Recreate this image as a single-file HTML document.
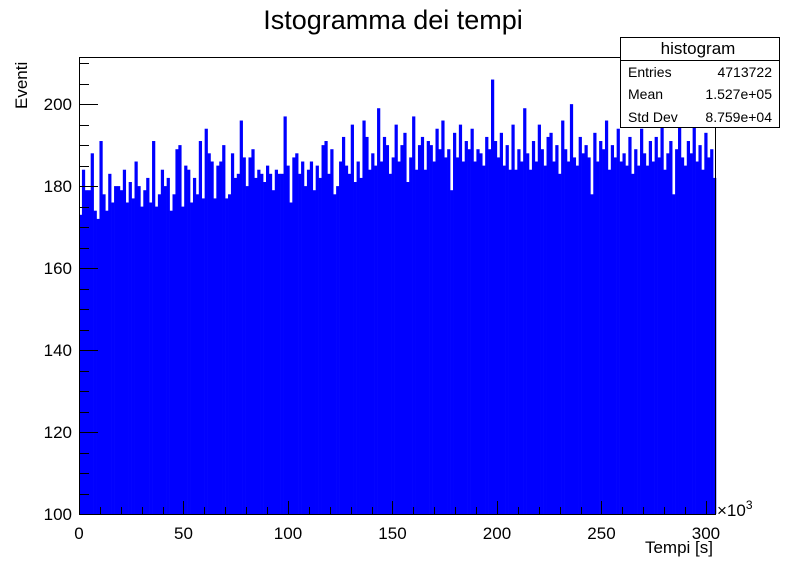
<!DOCTYPE html>
<html><head><meta charset="utf-8"><style>
html,body{margin:0;padding:0;background:#fff;}
svg{display:block;font-family:"Liberation Sans",sans-serif;}
</style></head><body>
<svg id="chart" width="796" height="572" viewBox="0 0 796 572">
<rect width="796" height="572" fill="#fff"/>
<text x="393" y="29" font-size="27" text-anchor="middle">Istogramma dei tempi</text>
<g id="bars"></g>
<g id="axes"></g>
<text x="713" y="553" font-size="17" text-anchor="end">Tempi [s]</text>
<text x="717" y="516" font-size="17">×10<tspan dy="-7" font-size="12">3</tspan></text>
<text transform="translate(27,109) rotate(-90)" font-size="17">Eventi</text>
<g>
<rect x="620.5" y="37.5" width="159" height="90" fill="#fff" stroke="#000" stroke-width="1"/>
<line x1="620" y1="60.5" x2="780" y2="60.5" stroke="#000"/>
<text x="698" y="54" font-size="17" text-anchor="middle">histogram</text>
<text x="628" y="77" font-size="14">Entries</text>
<text x="772" y="77" font-size="14" text-anchor="end">4713722</text>
<text x="628" y="99" font-size="14">Mean</text>
<text x="772" y="99" font-size="14" text-anchor="end">1.527e+05</text>
<text x="628" y="122" font-size="14">Std Dev</text>
<text x="772" y="122" font-size="14" text-anchor="end">8.759e+04</text>
</g>
</svg>
<script>
const counts = [173,184,179,179,188,174,172,191,178,174,183,176,180,180,179,184,176,181,177,186,180,175,179,182,176,191,175,178,184,180,182,174,178,189,190,175,185,184,176,182,178,191,177,194,188,186,177,185,186,190,177,178,188,182,183,196,187,180,187,189,182,184,183,181,185,183,179,184,183,183,197,185,176,187,188,183,186,180,184,186,179,185,182,190,191,183,189,178,180,186,192,185,183,195,181,186,182,196,192,184,188,185,199,186,192,190,183,187,195,186,190,193,181,187,197,184,190,192,184,191,190,186,194,189,196,187,189,179,193,187,195,186,191,189,194,186,189,188,185,192,189,206,191,187,193,185,190,184,195,184,189,186,199,188,184,191,186,195,189,185,192,193,186,190,183,196,189,186,200,187,185,192,188,190,187,178,193,186,191,189,196,184,190,187,194,186,188,185,192,183,189,185,194,188,185,191,186,192,187,195,184,188,191,178,189,195,187,185,191,188,196,186,190,184,193,187,189,182];
const xMin = 0, xMax = 304.8, yMin = 100, yMax = 211.5;
const xTicks = [0,50,100,150,200,250,300];
const yTicks = [100,120,140,160,180,200];
const L=79,R=716,T=57,B=514;
const sx=v=>L+(v-xMin)/(xMax-xMin)*(R-L);
const sy=v=>B-(v-yMin)/(yMax-yMin)*(B-T);
const NS="http://www.w3.org/2000/svg";
const bars=document.getElementById('bars');
const bw=(xMax-xMin)/counts.length;
counts.forEach((c,i)=>{
  const r=document.createElementNS(NS,'rect');
  const x0=sx(xMin+i*bw), x1=sx(xMin+(i+1)*bw);
  r.setAttribute('x',x0);r.setAttribute('width',x1-x0+0.3);
  r.setAttribute('y',sy(c));r.setAttribute('height',B-sy(c));
  r.setAttribute('fill','#0000ff');
  
  
  bars.appendChild(r);
});
const ax=document.getElementById('axes');
function line(x1,y1,x2,y2,name){const l=document.createElementNS(NS,'line');
  l.setAttribute('x1',x1);l.setAttribute('y1',y1);l.setAttribute('x2',x2);l.setAttribute('y2',y2);
  l.setAttribute('stroke','#000');l.setAttribute('stroke-width','1');
  
  
  ax.appendChild(l);}
function text(x,y,s,anchor,name){const t=document.createElementNS(NS,'text');
  t.setAttribute('x',x);t.setAttribute('y',y);t.setAttribute('font-size','17');t.setAttribute('text-anchor',anchor);t.textContent=s;
  
  
  ax.appendChild(t);}
const fr=document.createElementNS(NS,'rect');
fr.setAttribute('x',L+0.5);fr.setAttribute('y',T+0.5);fr.setAttribute('width',R-L-1);fr.setAttribute('height',B-T);
fr.setAttribute('fill','none');fr.setAttribute('stroke','#000');


ax.appendChild(fr);
for(let v=0;v<=xMax;v+=10){const x=Math.round(sx(v))+0.5;line(x,B,x,B-(v%50===0?13:7),'x-tick');}
xTicks.forEach(v=>text(sx(v),539,String(v),'middle','x-tick-label'));
for(let v=100;v<=yMax;v+=5){const y=Math.round(sy(v))+0.5;line(L,y,L+(v%20===0?19:10),y,'y-tick');}
yTicks.forEach(v=>text(72,sy(v)+6,String(v),'end','y-tick-label'));
</script>
</body></html>
